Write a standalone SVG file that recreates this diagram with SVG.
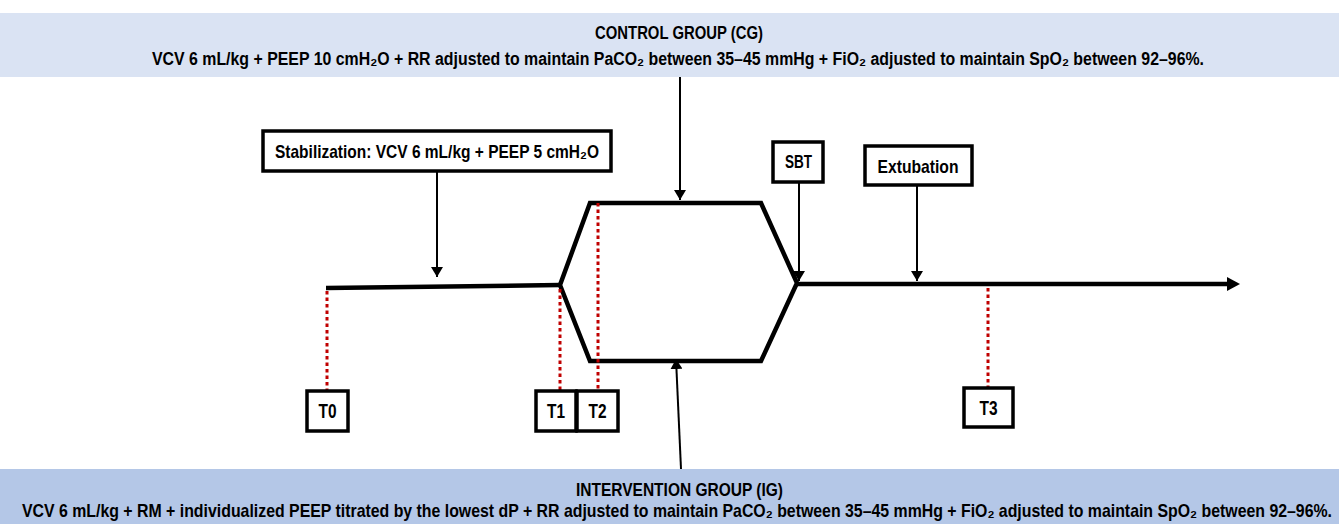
<svg xmlns="http://www.w3.org/2000/svg" width="1339" height="524" viewBox="0 0 1339 524">
<style>
.t{font-family:"Liberation Sans",Arial,sans-serif;font-weight:bold;fill:#000;text-anchor:middle}
.box{fill:#fff;stroke:#000;stroke-width:3.5}
.conn{stroke:#000;stroke-width:2;fill:none}
.main{stroke:#000;stroke-width:4.5;fill:none;stroke-linejoin:miter}
.dot{stroke:#c00000;stroke-width:3;stroke-dasharray:3.5 3;fill:none}
</style>
<defs>
<marker id="ah" markerWidth="10" markerHeight="12" refX="10" refY="6" orient="auto" markerUnits="userSpaceOnUse">
<path d="M0,0 L10,6 L0,12 Z" fill="#000"/>
</marker>
<marker id="big" markerWidth="13" markerHeight="14" refX="1" refY="7" orient="auto" markerUnits="userSpaceOnUse">
<path d="M0,0 L13,7 L0,14 Z" fill="#000"/>
</marker>
</defs>

<g id="control-group">
<rect x="0" y="13" width="1339" height="64" fill="#dae3f3"/>
<text class="t" x="679" y="39" font-size="17.5" textLength="168" lengthAdjust="spacingAndGlyphs">CONTROL GROUP (CG)</text>
<text class="t" x="678" y="65" font-size="17.5" textLength="1052" lengthAdjust="spacingAndGlyphs">VCV 6 mL/kg + PEEP 10 cmH₂O + RR adjusted to maintain PaCO₂ between 35–45 mmHg + FiO₂ adjusted to  maintain SpO₂ between 92–96%.</text>
</g>

<g id="intervention-group">
<rect x="0" y="469" width="1339" height="55" fill="#b4c7e7"/>
<text class="t" x="679.5" y="496" font-size="18.5" textLength="207" lengthAdjust="spacingAndGlyphs">INTERVENTION GROUP (IG)</text>
<text class="t" transform="translate(677,516.5) scale(1,1.18)" x="0" y="0" font-size="15" textLength="1310" lengthAdjust="spacingAndGlyphs">VCV 6 mL/kg + RM + individualized PEEP titrated by the lowest dP + RR adjusted to maintain PaCO₂ between 35–45 mmHg + FiO₂ adjusted to maintain SpO₂ between 92–96%.</text>
</g>

<g id="connectors">
<path class="main" d="M326,288 L560,285"/>
<path class="main" d="M560,285 L590,203 L761,203 L797,283 L761,361 L590,361 Z"/>
<path class="main" d="M797,284 L1228,284" marker-end="url(#big)"/>
<line class="conn" x1="680" y1="77" x2="680" y2="200" marker-end="url(#ah)"/>
<line class="conn" x1="681" y1="469" x2="676" y2="359" marker-end="url(#ah)"/>
<line class="conn" x1="437" y1="171" x2="437" y2="277" marker-end="url(#ah)"/>
<line class="conn" x1="799" y1="182" x2="799" y2="281" marker-end="url(#ah)"/>
<line class="conn" x1="917" y1="185" x2="917" y2="281" marker-end="url(#ah)"/>
<line class="dot" x1="327" y1="291" x2="327" y2="391"/>
<line class="dot" x1="560" y1="289" x2="560" y2="390"/>
<line class="dot" x1="598" y1="203" x2="598" y2="390"/>
<line class="dot" x1="988" y1="288" x2="988" y2="388"/>
</g>

<g id="stabilization">
<rect class="box" x="263" y="131" width="348" height="40"/>
<text class="t" x="437" y="158" font-size="19" textLength="324" lengthAdjust="spacingAndGlyphs">Stabilization: VCV 6 mL/kg + PEEP 5 cmH₂O</text>
</g>
<g id="sbt">
<rect class="box" x="773" y="142" width="50" height="40"/>
<text class="t" x="798.5" y="168" font-size="19" textLength="27" lengthAdjust="spacingAndGlyphs">SBT</text>
</g>
<g id="extubation">
<rect class="box" x="865" y="146" width="107" height="39"/>
<text class="t" x="918" y="173" font-size="19" textLength="81" lengthAdjust="spacingAndGlyphs">Extubation</text>
</g>
<g id="t0">
<rect class="box" x="307" y="391" width="41" height="40"/>
<text class="t" x="327.5" y="418" font-size="20" textLength="18" lengthAdjust="spacingAndGlyphs">T0</text>
</g>
<g id="t1">
<rect class="box" x="536" y="391" width="40" height="40"/>
<text class="t" x="556" y="418" font-size="20" textLength="18" lengthAdjust="spacingAndGlyphs">T1</text>
</g>
<g id="t2">
<rect class="box" x="577" y="391" width="41" height="40"/>
<text class="t" x="597.5" y="418" font-size="20" textLength="18" lengthAdjust="spacingAndGlyphs">T2</text>
</g>
<g id="t3">
<rect class="box" x="964" y="388" width="49" height="39"/>
<text class="t" x="988.5" y="415" font-size="20" textLength="18" lengthAdjust="spacingAndGlyphs">T3</text>
</g>
</svg>
